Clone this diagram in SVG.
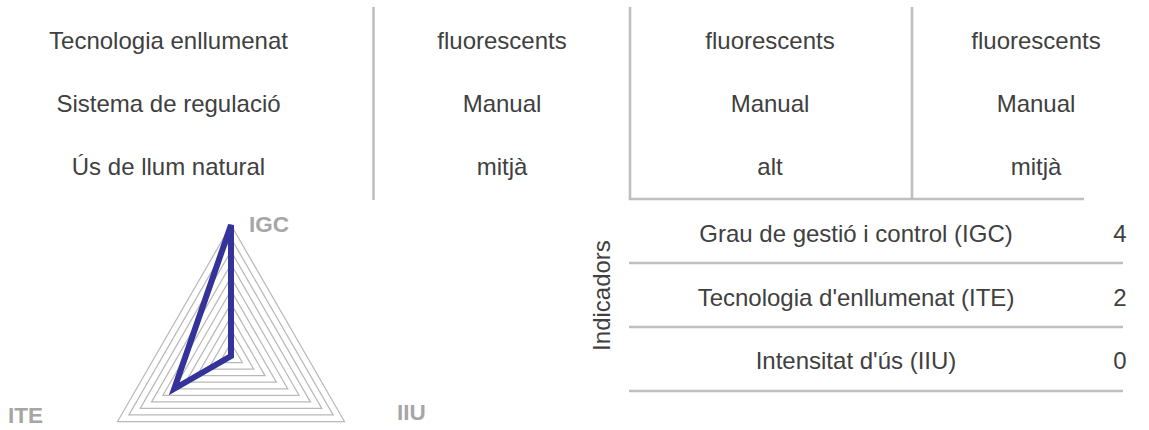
<svg xmlns="http://www.w3.org/2000/svg" width="1149" height="430" viewBox="0 0 1149 430">
  <style>
    .t { font-family: "Liberation Sans", Arial, sans-serif; font-size: 24px; fill: #404040; text-anchor: middle; }
    .ax { font-family: "Liberation Sans", Arial, sans-serif; font-size: 22.5px; font-weight: bold; fill: #a6a6a6; }
    .rule { stroke: #bfbfbf; stroke-width: 2.6; fill: none; }
    .grid { stroke: #b9b9b9; stroke-width: 1.25; fill: none; }
    .series { stroke: #333399; stroke-width: 6; fill: none; }
  </style>
  <rect width="1149" height="430" fill="#ffffff"/>

  <g id="connectors">
    <line class="rule" x1="373.5" y1="7" x2="373.5" y2="200"/>
    <line class="rule" x1="630" y1="7" x2="630" y2="199"/>
    <line class="rule" x1="912" y1="7" x2="912" y2="199"/>
    <line class="rule" x1="628.7" y1="199" x2="1084" y2="199"/>
    <line class="rule" x1="629" y1="263" x2="1123" y2="263"/>
    <line class="rule" x1="629" y1="327" x2="1123" y2="327"/>
    <line class="rule" x1="629" y1="391" x2="1123" y2="391"/>
  </g>

  <g id="table-labels">
    <text class="t" x="168.5" y="49">Tecnologia enllumenat</text>
    <text class="t" x="168.5" y="112">Sistema de regulació</text>
    <text class="t" x="168.5" y="175">Ús de llum natural</text>
  </g>
  <g id="col-1">
    <text class="t" x="502" y="49">fluorescents</text>
    <text class="t" x="502" y="112">Manual</text>
    <text class="t" x="502" y="175">mitjà</text>
  </g>
  <g id="col-2">
    <text class="t" x="770" y="49">fluorescents</text>
    <text class="t" x="770" y="112">Manual</text>
    <text class="t" x="770" y="175">alt</text>
  </g>
  <g id="col-3">
    <text class="t" x="1036" y="49">fluorescents</text>
    <text class="t" x="1036" y="112">Manual</text>
    <text class="t" x="1036" y="175">mitjà</text>
  </g>

  <g id="radar-chart">
    <g id="radar-grid">
      <polygon class="grid" points="231,342.9 219.66,362.55 242.34,362.55"/>
      <polygon class="grid" points="231,329.8 208.31,369.1 253.69,369.1"/>
      <polygon class="grid" points="231,316.7 196.97,375.65 265.03,375.65"/>
      <polygon class="grid" points="231,303.6 185.62,382.2 276.38,382.2"/>
      <polygon class="grid" points="231,290.5 174.28,388.75 287.72,388.75"/>
      <polygon class="grid" points="231,277.4 162.93,395.3 299.07,395.3"/>
      <polygon class="grid" points="231,264.3 151.59,401.85 310.41,401.85"/>
      <polygon class="grid" points="231,251.2 140.24,408.4 321.76,408.4"/>
      <polygon class="grid" points="231,238.1 128.9,414.95 333.1,414.95"/>
      <polygon class="grid" points="231,225 117.55,421.5 344.45,421.5"/>
    </g>
    <polygon id="radar-series" class="series" points="231,225 174.28,388.75 231,356"/>
    <text class="ax" x="249" y="232">IGC</text>
    <text class="ax" x="8" y="422.5">ITE</text>
    <text class="ax" x="397" y="420">IIU</text>
  </g>

  <g id="indicators">
    <text class="t" x="610" y="295.5" transform="rotate(-90 610 295.5)">Indicadors</text>
    <g id="row-igc">
      <text class="t" x="856" y="242">Grau de gestió i control (IGC)</text>
      <text class="t" x="1120" y="242">4</text>
    </g>
    <g id="row-ite">
      <text class="t" x="856" y="305.5">Tecnologia d'enllumenat (ITE)</text>
      <text class="t" x="1120" y="305.5">2</text>
    </g>
    <g id="row-iiu">
      <text class="t" x="856" y="369">Intensitat d'ús (IIU)</text>
      <text class="t" x="1120" y="369">0</text>
    </g>
  </g>
</svg>
